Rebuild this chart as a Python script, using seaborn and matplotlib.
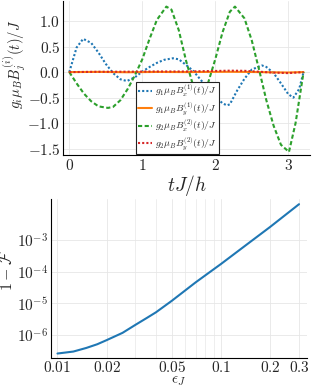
import numpy as np
import pandas as pd
import seaborn as sns
import matplotlib.pyplot as plt
from matplotlib.ticker import FixedLocator, FixedFormatter, FuncFormatter, NullFormatter

# top panel: control fields vs time
t_b1x = [0, 0.1, 0.19, 0.3, 0.4, 0.5, 0.6, 0.7, 0.79, 0.9, 1.0, 1.1, 1.2, 1.3, 1.42, 1.5, 1.6, 1.7,
         1.8, 1.9, 2.0, 2.1, 2.16, 2.2, 2.3, 2.4, 2.5, 2.64, 2.7, 2.8, 2.9, 3.0, 3.07, 3.15, 3.21]
b1x = [0, 0.48, 0.65, 0.57, 0.38, 0.16, -0.02, -0.14, -0.175, -0.10, 0.01, 0.10, 0.18, 0.24, 0.27, 0.25,
       0.14, 0.02, -0.15, -0.32, -0.48, -0.61, -0.65, -0.63, -0.36, -0.13, 0.05, 0.13, 0.10, -0.02,
       -0.22, -0.43, -0.50, -0.33, 0.0]

t_b2x = [0, 0.1, 0.2, 0.3, 0.4, 0.53, 0.6, 0.7, 0.8, 0.9, 1.0, 1.1, 1.2, 1.33, 1.4, 1.5, 1.6, 1.7,
         1.81, 1.9, 2.0, 2.1, 2.2, 2.27, 2.4, 2.5, 2.6, 2.7, 2.8, 2.9, 3.01, 3.1, 3.21]
b2x = [0, -0.22, -0.42, -0.57, -0.67, -0.70, -0.68, -0.55, -0.33, -0.06, 0.25, 0.65, 1.02, 1.28, 1.22,
       0.82, 0.22, -0.28, -0.455, -0.22, 0.25, 0.78, 1.18, 1.28, 1.05, 0.62, 0.05, -0.55, -1.05,
       -1.42, -1.56, -1.0, 0.0]

t_small = [0, 0.4, 0.8, 1.2, 1.6, 2.0, 2.2, 2.4, 2.8, 3.0, 3.21]
b1y = [0, 0.004, -0.003, 0.003, 0.0, 0.005, 0.006, 0.004, -0.005, -0.008, 0.0]
b2y = [0, 0.006, 0.008, 0.012, 0.012, 0.022, 0.028, 0.025, -0.01, -0.02, 0.0]

# bottom panel: infidelity vs epsilon
eps = [0.01, 0.0125, 0.015, 0.0175, 0.02, 0.025, 0.03, 0.035, 0.04, 0.05, 0.07, 0.1, 0.15, 0.2, 0.3]
infid = [2.6e-7, 3.0e-7, 3.9e-7, 5.1e-7, 6.9e-7, 1.17e-6, 2.1e-6, 3.4e-6, 5.2e-6, 1.2e-5, 4.6e-5,
         1.75e-4, 8.5e-4, 2.6e-3, 1.35e-2]

labels = [r"$g_1\mu_B B_x^{(1)}(t)/J$", r"$g_1\mu_B B_y^{(1)}(t)/J$",
          r"$g_2\mu_B B_x^{(2)}(t)/J$", r"$g_2\mu_B B_y^{(2)}(t)/J$"]

sns.set_style("white")
plt.rcParams['font.family'] = ['cmr10', 'DejaVu Serif']
plt.rcParams['mathtext.fontset'] = 'cm'
plt.rcParams['axes.formatter.use_mathtext'] = True

pal = sns.color_palette("tab10")
fig = plt.figure(figsize=(3.12, 3.87), dpi=100)
ax1 = fig.add_axes([0.202, 0.5995, 0.792, 0.398])
ax2 = fig.add_axes([0.1625, 0.0757, 0.8215, 0.4093])

series = [(t_b1x, b1x, pal[0], (0, (1, 1))),
          (t_small, b1y, pal[1], '-'),
          (t_b2x, b2x, pal[2], (0, (2, 1.2))),
          (t_small, b2y, pal[3], (0, (1, 1)))]
for (tt, vv, c, ls), lab in zip(series, labels):
    df = pd.DataFrame({'t': tt, 'v': vv})
    sns.lineplot(data=df, x='t', y='v', ax=ax1, color=c, linestyle=ls, lw=1.5, label=lab, sort=False)

ax1.set_xlim(-0.086, 3.30)
ax1.set_ylim(-1.62, 1.39)
ax1.set_xticks([0, 1, 2, 3])
ax1.set_yticks([-1.5, -1.0, -0.5, 0.0, 0.5, 1.0])
ax1.xaxis.set_major_formatter(FuncFormatter(lambda v, p: f"${v:.0f}$"))
ax1.yaxis.set_major_formatter(FuncFormatter(lambda v, p: f"${v:.1f}$"))
ax1.set_xlabel(r"$tJ/h$", fontsize=14, labelpad=0)
ax1.set_ylabel(r"$g_i\mu_B B_j^{(i)}(t)/J$", fontsize=10.5)
ax1.yaxis.set_label_coords(-0.142, 0.585)
leg = ax1.legend(loc='lower left', bbox_to_anchor=(0.29, 0.0), fontsize=7, frameon=True,
                 fancybox=False, framealpha=1, edgecolor='#222222', handlelength=1.5,
                 handletextpad=0.3, borderpad=0.2, labelspacing=0.2, borderaxespad=0.1)
leg.get_frame().set_linewidth(0.8)

df2 = pd.DataFrame({'eps': eps, 'infid': infid})
sns.lineplot(data=df2, x='eps', y='infid', ax=ax2, color=pal[0], lw=1.5)
ax2.set_xscale('log')
ax2.set_yscale('log')
ax2.set_xlim(0.00909, 0.3357)
ax2.set_ylim(10 ** -6.717, 10 ** -1.715)
xt = [0.01, 0.02, 0.05, 0.1, 0.2, 0.3]
ax2.xaxis.set_major_locator(FixedLocator(xt))
ax2.xaxis.set_major_formatter(FixedFormatter([f"${v:g}$" for v in xt]))
ax2.xaxis.set_minor_locator(FixedLocator([0.03, 0.04, 0.06, 0.07, 0.08, 0.09]))
ax2.xaxis.set_minor_formatter(NullFormatter())
ax2.yaxis.set_major_locator(FixedLocator([1e-6, 1e-5, 1e-4, 1e-3]))
ax2.yaxis.set_minor_locator(FixedLocator([]))
ax2.set_xlabel(r"$\epsilon_J$", fontsize=11, labelpad=-1)
ax2.set_ylabel(r"$1-\mathcal{F}$", fontsize=11.5)
ax2.yaxis.set_label_coords(-0.138, 0.55)
ax2.grid(which='minor', axis='x', color='#ebebeb', lw=0.6)

for ax in (ax1, ax2):
    ax.grid(which='major', color='#e6e6e6', lw=0.6)
    for s in ('top', 'right'):
        ax.spines[s].set_visible(False)
    for s in ('left', 'bottom'):
        ax.spines[s].set_color('black')
        ax.spines[s].set_linewidth(0.8)
    ax.tick_params(which='both', direction='in', length=3, width=0.6, labelsize=11, pad=2)
    ax.set_axisbelow(True)

fig.savefig("out.png", dpi=100)
